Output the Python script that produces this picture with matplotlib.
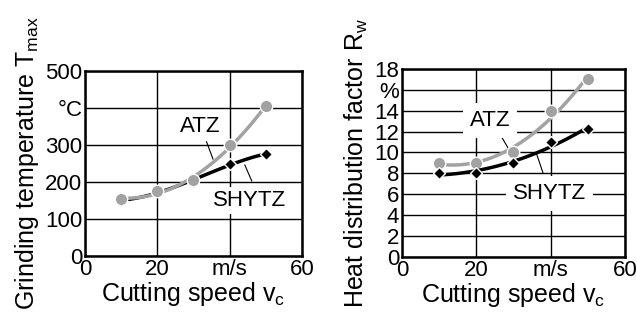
import numpy as np
import matplotlib
matplotlib.use("Agg")
import matplotlib.pyplot as plt

plt.rcParams['font.family'] = ['Liberation Sans', 'DejaVu Sans']
plt.rcParams['mathtext.fontset'] = 'custom'
plt.rcParams['mathtext.rm'] = 'Liberation Sans'
plt.rcParams['mathtext.it'] = 'Liberation Sans'

# cutting speed in m/s
speed = [10, 20, 30, 40, 50]

# grinding temperature in deg C
temp_atz = [155, 175, 205, 300, 405]
temp_shytz = [150, 175, 200, 250, 275]

# heat distribution factor in %
rw_atz = [9, 9, 10, 14, 17]
rw_shytz = [8, 8, 9, 11, 12.2]

x_ticks = [0, 20, 40, 60]
x_ticklabels = ['0', '20', 'm/s', '60']
t_ticks = [0, 100, 200, 300, 400, 500]
t_ticklabels = ['0', '100', '200', '300', '°C', '500']
r_ticks = list(range(0, 19, 2))
r_ticklabels = ['0', '2', '4', '6', '8', '10', '12', '14', '%', '18']

GRAY = '#a2a2a2'
TICK_FS = 16
LABEL_FS = 18


def trend(x, y, deg):
    # smooth trend curve through the measured points
    c = np.polyfit(x, y, deg)
    xs = np.linspace(min(x), max(x), 100)
    return xs, np.polyval(c, xs)


def style_axes(ax, yticks, yticklabels, ylim, ylabel):
    ax.set_xlim(0, 60)
    ax.set_ylim(*ylim)
    ax.set_xticks(x_ticks)
    ax.set_xticklabels(x_ticklabels, fontsize=TICK_FS)
    ax.set_yticks(yticks)
    ax.set_yticklabels(yticklabels, fontsize=TICK_FS)
    ax.tick_params(length=0, pad=2)
    ax.grid(True, color='black', linewidth=1.0)
    ax.set_axisbelow(True)
    for s in ax.spines.values():
        s.set_linewidth(1.8)
    ax.set_xlabel(r'Cutting speed v$_\mathrm{c}$', fontsize=LABEL_FS, labelpad=0)
    ax.set_ylabel(ylabel, fontsize=LABEL_FS, labelpad=3)


def draw_series(ax, x, y, deg, color, marker, ms, z):
    xs, ys = trend(x, y, deg)
    ax.plot(xs, ys, color=color, linewidth=2.5, zorder=z, solid_capstyle='round')
    ax.plot(x, y, linestyle='none', marker=marker, markersize=ms,
            markerfacecolor=color, markeredgecolor='white', markeredgewidth=1.0,
            zorder=z + 0.5)


fig = plt.figure(figsize=(6.37, 3.13), dpi=100)
ax1 = fig.add_axes([0.1334, 0.182, 0.3407, 0.591])
ax2 = fig.add_axes([0.631, 0.179, 0.350, 0.601])

box = dict(facecolor='white', edgecolor='none', pad=2)

# left: grinding temperature
draw_series(ax1, speed, temp_shytz, 3, 'black', 'D', 6.5, 3)
draw_series(ax1, speed, temp_atz, 2, GRAY, 'o', 9, 4)
ax1.plot([33.6, 35.4], [309, 262], color='black', linewidth=0.8, zorder=2.5)
ax1.plot([44.2, 46.1], [246, 203], color='black', linewidth=0.8, zorder=2.5)
ax1.text(31.8, 349, 'ATZ', fontsize=TICK_FS, ha='center', va='center', bbox=box, zorder=2.6)
ax1.text(45.6, 150, 'SHYTZ', fontsize=TICK_FS, ha='center', va='center', bbox=box, zorder=2.6)
style_axes(ax1, t_ticks, t_ticklabels, (0, 500), r'Grinding temperature T$_\mathrm{max}$')

# right: heat distribution factor
draw_series(ax2, speed, rw_atz, 2, GRAY, 'o', 9, 3)
draw_series(ax2, speed, rw_shytz, 2, 'black', 'D', 6.5, 4)
ax2.plot([26.8, 29.1], [11.5, 10.1], color='black', linewidth=0.8, zorder=2.5)
ax2.plot([36.2, 38.0], [9.9, 8.0], color='black', linewidth=0.8, zorder=2.5)
ax2.text(23.7, 13.05, 'ATZ', fontsize=TICK_FS, ha='center', va='center',
         bbox=dict(facecolor='white', edgecolor='none', pad=5), zorder=2.6)
ax2.text(39.8, 6.1, 'SHYTZ', fontsize=TICK_FS, ha='center', va='center',
         bbox=dict(facecolor='white', edgecolor='none', pad=5), zorder=2.6)
style_axes(ax2, r_ticks, r_ticklabels, (0, 18), r'Heat distribution factor R$_\mathrm{w}$')

fig.savefig('out.png', dpi=100)
